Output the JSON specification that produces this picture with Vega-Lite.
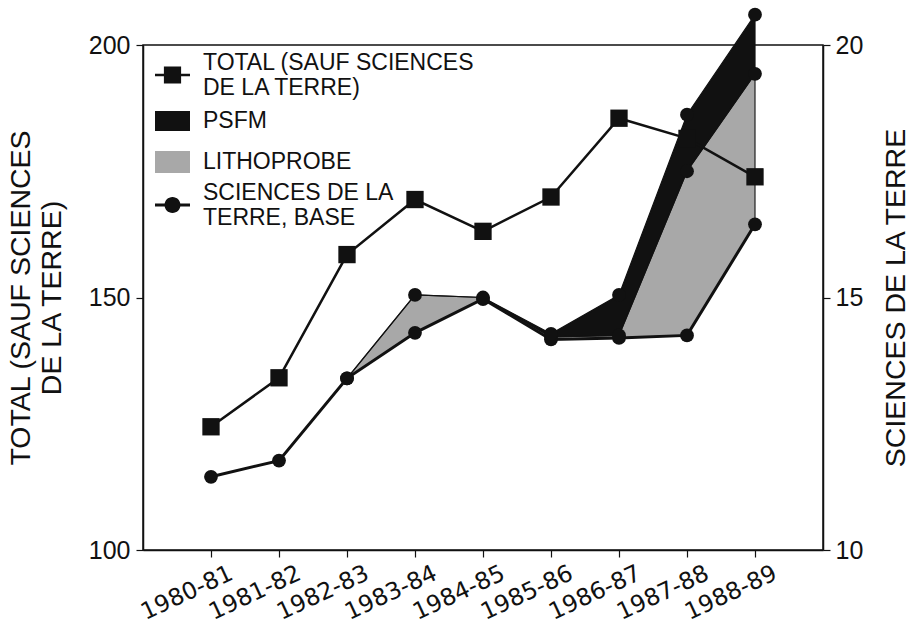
{
  "$schema": "https://vega.github.io/schema/vega-lite/v6.json",
  "width": 680,
  "height": 505,
  "autosize": {"type": "none"},
  "padding": {"left": 143, "top": 45, "right": 91, "bottom": 77},
  "background": "white",
  "config": {
    "font": "Liberation Sans",
    "view": {"stroke": "#111", "strokeWidth": 1.5},
    "axis": {
      "domainColor": "#111",
      "domainWidth": 1.5,
      "tickColor": "#111",
      "tickWidth": 1.2,
      "tickSize": 7,
      "labelColor": "#111",
      "titleColor": "#111",
      "labelFont": "Liberation Sans",
      "titleFont": "Liberation Sans",
      "labelFontSize": 25,
      "titleFontSize": 28.5,
      "titleFontWeight": "normal",
      "grid": false
    }
  },
  "datasets": {
    "main": [
      {"year": "1980-81", "total": 124.4, "base": 11.45, "litho_top": null, "top": null},
      {"year": "1981-82", "total": 134.1, "base": 11.77, "litho_top": null, "top": null},
      {"year": "1982-83", "total": 158.5, "base": 13.4, "litho_top": 13.4, "top": null},
      {"year": "1983-84", "total": 169.4, "base": 14.3, "litho_top": 15.05, "top": null},
      {"year": "1984-85", "total": 163.1, "base": 14.97, "litho_top": 15.0, "top": null},
      {"year": "1985-86", "total": 169.9, "base": 14.17, "litho_top": 14.22, "top": 14.28},
      {"year": "1986-87", "total": 185.5, "base": 14.2, "litho_top": 14.25, "top": 15.05},
      {"year": "1987-88", "total": 181.5, "base": 14.25, "litho_top": 17.5, "top": 18.62},
      {"year": "1988-89", "total": 173.9, "base": 16.45, "litho_top": 19.43, "top": 20.6}
    ],
    "legend": [
      {"series": "TOTAL"},
      {"series": "PSFM"},
      {"series": "LITHOPROBE"},
      {"series": "BASE"}
    ]
  },
  "layer": [
    {
      "data": {"name": "main"},
      "encoding": {
        "x": {
          "field": "year",
          "type": "ordinal",
          "scale": {"type": "point", "padding": 1},
          "axis": {
            "title": null,
            "labelAngle": -25,
            "labelAlign": "right",
            "labelBaseline": "top",
            "labelPadding": 4,
            "labelOffset": 15,
            "labelFont": "DejaVu Sans",
            "labelFontSize": 23.5
          }
        }
      },
      "layer": [
        {
          "mark": {"type": "area", "fill": "#a8a8a8", "stroke": "#222", "strokeWidth": 1.2, "clip": false},
          "encoding": {
            "y": {"field": "base", "type": "quantitative"},
            "y2": {"field": "litho_top"}
          }
        },
        {
          "mark": {"type": "area", "fill": "#111", "stroke": "#111", "strokeWidth": 1.2, "clip": false},
          "encoding": {
            "y": {"field": "litho_top", "type": "quantitative"},
            "y2": {"field": "top"}
          }
        },
        {
          "mark": {"type": "line", "color": "#111", "strokeWidth": 3},
          "encoding": {
            "y": {
              "field": "base",
              "type": "quantitative",
              "scale": {"domain": [10, 20], "nice": false, "zero": false},
              "axis": {
                "orient": "right",
                "values": [10, 15, 20],
                "title": "SCIENCES DE LA TERRE",
                "titleAngle": -90,
                "titlePadding": 48,
                "labelPadding": 5
              }
            }
          }
        },
        {
          "mark": {"type": "point", "shape": "circle", "filled": true, "color": "#111", "opacity": 1, "size": 190},
          "encoding": {"y": {"field": "base", "type": "quantitative"}}
        },
        {
          "mark": {"type": "point", "shape": "circle", "filled": true, "color": "#111", "opacity": 1, "size": 190},
          "encoding": {"y": {"field": "litho_top", "type": "quantitative"}}
        },
        {
          "mark": {"type": "point", "shape": "circle", "filled": true, "color": "#111", "opacity": 1, "size": 190},
          "encoding": {"y": {"field": "top", "type": "quantitative"}}
        }
      ]
    },
    {
      "data": {"name": "main"},
      "encoding": {
        "x": {"field": "year", "type": "ordinal", "scale": {"type": "point", "padding": 1}},
        "y": {
          "field": "total",
          "type": "quantitative",
          "scale": {"domain": [100, 200], "nice": false, "zero": false},
          "axis": {
            "orient": "left",
            "values": [100, 150, 200],
            "title": ["TOTAL (SAUF SCIENCES", "DE LA TERRE)"],
            "titlePadding": 22,
            "titleLineHeight": 31,
            "labelPadding": 6
          }
        }
      },
      "layer": [
        {"mark": {"type": "line", "color": "#111", "strokeWidth": 2.5}},
        {"mark": {"type": "point", "shape": "square", "filled": true, "color": "#111", "opacity": 1, "size": 300}}
      ]
    },
    {
      "data": {"name": "legend"},
      "mark": {"type": "point", "filled": true, "size": 0},
      "encoding": {
        "color": {
          "field": "series",
          "type": "nominal",
          "scale": {"domain": ["TOTAL", "PSFM", "LITHOPROBE", "BASE"], "range": ["#111", "#111", "#a8a8a8", "#111"]},
          "legend": {
            "title": null,
            "orient": "none",
            "legendX": 9.5,
            "legendY": 10,
            "padding": 0,
            "symbolSize": 1600,
            "symbolStrokeWidth": 0,
            "symbolOpacity": 1,
            "labelFont": "Liberation Sans",
            "labelFontSize": 23,
            "labelColor": "#111",
            "labelLineHeight": 24,
            "labelOffset": 10.5,
            "labelLimit": 400,
            "rowPadding": 0,
            "labelExpr": "datum.label == 'TOTAL' ? ['TOTAL (SAUF SCIENCES', 'DE LA TERRE)'] : datum.label == 'BASE' ? ['SCIENCES DE LA', 'TERRE, BASE'] : datum.label",
            "encode": {
              "labels": {
                "update": {
                  "dy": {"signal": "datum.value == 'TOTAL' || datum.value == 'BASE' ? -12 : 0"}
                }
              }
            }
          }
        },
        "shape": {
          "field": "series",
          "type": "nominal",
          "scale": {
            "domain": ["TOTAL", "PSFM", "LITHOPROBE", "BASE"],
            "range": [
              "M-0.875,-0.062H0.875V0.062H-0.875Z M-0.43,-0.43H0.43V0.43H-0.43Z",
              "M0,-1.05Z M0,1.05Z M-0.875,-0.5H0.875V0.5H-0.875Z",
              "M0,-1.0Z M0,1.0Z M-0.875,-0.55H0.875V0.55H-0.875Z",
              "M-0.875,-0.07H0.875V0.07H-0.875Z M0.4,0A0.4,0.4,0,1,1,-0.4,0A0.4,0.4,0,1,1,0.4,0Z"
            ]
          },
          "legend": {
            "title": null,
            "orient": "none",
            "legendX": 9.5,
            "legendY": 10,
            "padding": 0,
            "symbolSize": 1600,
            "symbolStrokeWidth": 0,
            "symbolOpacity": 1,
            "labelFont": "Liberation Sans",
            "labelFontSize": 23,
            "labelColor": "#111",
            "labelLineHeight": 24,
            "labelOffset": 10.5,
            "labelLimit": 400,
            "rowPadding": 0,
            "labelExpr": "datum.label == 'TOTAL' ? ['TOTAL (SAUF SCIENCES', 'DE LA TERRE)'] : datum.label == 'BASE' ? ['SCIENCES DE LA', 'TERRE, BASE'] : datum.label",
            "encode": {
              "labels": {
                "update": {
                  "dy": {"signal": "datum.value == 'TOTAL' || datum.value == 'BASE' ? -12 : 0"}
                }
              }
            }
          }
        }
      }
    }
  ],
  "resolve": {"scale": {"y": "independent"}}
}
